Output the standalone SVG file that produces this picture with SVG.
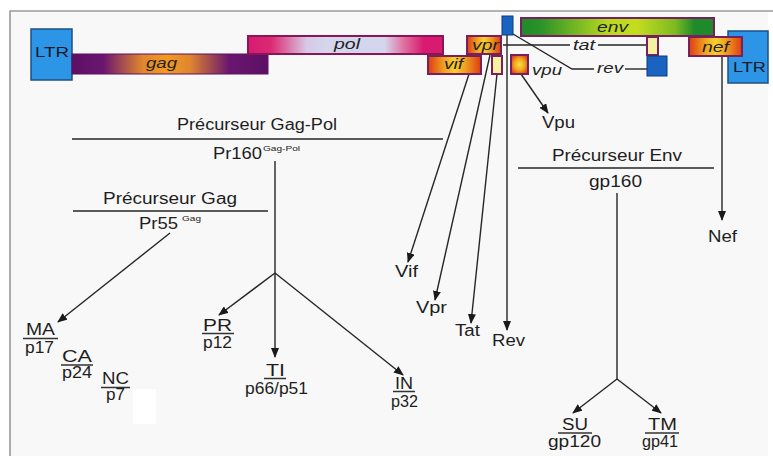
<svg xmlns="http://www.w3.org/2000/svg" width="773" height="456" viewBox="0 0 773 456">
<defs>
<style>
.t{font-family:"Liberation Sans",Arial,sans-serif;font-size:16px;fill:#1e1e1e}
.g{font-family:"Liberation Sans",Arial,sans-serif;font-size:15px;font-style:italic;fill:#222}
.sup{font-family:"Liberation Sans",Arial,sans-serif;font-size:8px;fill:#222}
.ltr{font-family:"Liberation Sans",Arial,sans-serif;font-size:15px;fill:#1a1a2a}
.ln{stroke:#262626;stroke-width:1.4;fill:none}
.ar{stroke:#262626;stroke-width:1.4;fill:none;marker-end:url(#ah)}
.ul{stroke:#333;stroke-width:1.5}
.box{stroke:#7a1f5e;stroke-width:2}
</style>
<marker id="ah" markerUnits="userSpaceOnUse" markerWidth="10" markerHeight="8" refX="9" refY="4" orient="auto">
<path d="M0,0 L10,4 L0,8 z" fill="#1a1a1a"/>
</marker>
<linearGradient id="gGag" x1="0" x2="1" y1="0" y2="0">
<stop offset="0" stop-color="#5c1064"/>
<stop offset="0.16" stop-color="#6a1670"/>
<stop offset="0.36" stop-color="#e0862e"/>
<stop offset="0.48" stop-color="#f29a22"/>
<stop offset="0.6" stop-color="#e0862e"/>
<stop offset="0.8" stop-color="#6a1670"/>
<stop offset="1" stop-color="#5c1064"/>
</linearGradient>
<linearGradient id="gPol" x1="0" x2="1" y1="0" y2="0">
<stop offset="0" stop-color="#d81b70"/>
<stop offset="0.12" stop-color="#dc2a74"/>
<stop offset="0.3" stop-color="#d8c8e4"/>
<stop offset="0.4" stop-color="#d4d6ee"/>
<stop offset="0.7" stop-color="#d4d6ee"/>
<stop offset="0.8" stop-color="#e070a0"/>
<stop offset="0.9" stop-color="#d81b70"/>
<stop offset="1" stop-color="#d81b70"/>
</linearGradient>
<linearGradient id="gEnv" x1="0" x2="1" y1="0" y2="0">
<stop offset="0" stop-color="#1e8a2a"/>
<stop offset="0.1" stop-color="#2a9228"/>
<stop offset="0.45" stop-color="#b8d820"/>
<stop offset="0.6" stop-color="#c4dc1e"/>
<stop offset="0.8" stop-color="#7cba22"/>
<stop offset="0.9" stop-color="#1e8a2a"/>
<stop offset="1" stop-color="#1e8a2a"/>
</linearGradient>
<linearGradient id="gOr" x1="0" x2="1" y1="0" y2="0">
<stop offset="0" stop-color="#dc3c14"/>
<stop offset="0.3" stop-color="#f0a020"/>
<stop offset="0.5" stop-color="#f8d030"/>
<stop offset="0.7" stop-color="#f0a020"/>
<stop offset="1" stop-color="#dc3c14"/>
</linearGradient>
<radialGradient id="gRad" cx="0.5" cy="0.5" r="0.6">
<stop offset="0" stop-color="#f8e040"/>
<stop offset="0.5" stop-color="#f2a820"/>
<stop offset="1" stop-color="#dc3c14"/>
</radialGradient>
</defs>

<rect x="0" y="0" width="773" height="456" fill="#ffffff"/>
<rect x="10" y="11" width="758" height="445" fill="#f8f8f8"/>
<path d="M10,456 V11 H773" stroke="#9a9a9a" stroke-width="1.6" fill="none"/>
<rect x="133" y="389" width="23" height="35" fill="#ffffff"/>

<g id="connectors">
<line class="ln" x1="503" y1="45" x2="570" y2="45"/>
<line class="ln" x1="598" y1="45" x2="647" y2="45"/>
<polyline class="ln" points="513,34 572,69 594,69"/>
<line class="ln" x1="625" y1="69" x2="647" y2="69"/>
<line class="ar" x1="469" y1="74" x2="408" y2="262"/>
<line class="ar" x1="490" y1="55" x2="435" y2="300"/>
<line class="ar" x1="497" y1="74" x2="471" y2="323"/>
<line class="ar" x1="507" y1="35" x2="507" y2="330"/>
<line class="ar" x1="521" y1="74" x2="548" y2="113"/>
<line class="ar" x1="722" y1="56" x2="722" y2="220"/>
<line class="ln" x1="72" y1="139" x2="443" y2="139"/>
<line class="ln" x1="73" y1="211" x2="268" y2="211"/>
<line class="ln" x1="518" y1="168" x2="714" y2="168"/>
<line class="ln" x1="275" y1="161" x2="275" y2="273"/>
<line class="ar" x1="275" y1="273" x2="219" y2="315"/>
<line class="ar" x1="275" y1="273" x2="275" y2="357"/>
<line class="ar" x1="275" y1="273" x2="403" y2="375"/>
<line class="ar" x1="170" y1="233" x2="58" y2="322"/>
<line class="ln" x1="617" y1="193" x2="617" y2="379"/>
<line class="ar" x1="617" y1="379" x2="573" y2="413"/>
<line class="ar" x1="617" y1="379" x2="661" y2="413"/>
</g>

<g id="ltr-left">
<rect x="31" y="29" width="41" height="51" fill="#2d95e6" stroke="#1d4f86" stroke-width="1.5"/>
<text class="ltr" x="35" y="57" textLength="34" lengthAdjust="spacingAndGlyphs">LTR</text>
</g>
<g id="gag">
<rect x="72" y="54" width="196" height="20" fill="url(#gGag)" stroke="#5a1060" stroke-width="1"/>
<text class="g" x="146" y="68" textLength="31" lengthAdjust="spacingAndGlyphs">gag</text>
</g>
<g id="pol">
<rect x="248" y="36" width="195" height="18" fill="url(#gPol)" stroke="#8a1656" stroke-width="2"/>
<text class="g" x="334" y="49" textLength="26" lengthAdjust="spacingAndGlyphs">pol</text>
</g>
<g id="vif">
<rect class="box" x="428" y="56" width="53" height="18" fill="url(#gOr)"/>
<text class="g" x="444" y="69" textLength="19" lengthAdjust="spacingAndGlyphs">vif</text>
</g>
<g id="vpr">
<rect class="box" x="467" y="36" width="34" height="18" fill="url(#gOr)"/>
<text class="g" x="472" y="50" textLength="27" lengthAdjust="spacingAndGlyphs">vpr</text>
</g>
<g id="tat-exon1">
<rect class="box" x="492" y="56" width="10" height="18" fill="#f6f0a0"/>
</g>
<g id="rev-exon1">
<rect x="502" y="16" width="11" height="19" fill="#1a63c0" stroke="#0c3a80" stroke-width="1"/>
</g>
<g id="vpu">
<rect class="box" x="511" y="55" width="17" height="19" fill="url(#gRad)"/>
<text class="g" x="532" y="75" textLength="30" lengthAdjust="spacingAndGlyphs">vpu</text>
</g>
<g id="env">
<rect class="box" x="521" y="18" width="193" height="18" fill="url(#gEnv)"/>
<text class="g" x="597" y="32" textLength="31" lengthAdjust="spacingAndGlyphs">env</text>
</g>
<g id="tat">
<text class="g" x="573" y="50" textLength="22" lengthAdjust="spacingAndGlyphs">tat</text>
<rect class="box" x="647" y="37" width="11" height="18" fill="#f6f0a0"/>
</g>
<g id="rev">
<text class="g" x="597" y="73" textLength="26" lengthAdjust="spacingAndGlyphs">rev</text>
<rect x="647" y="56" width="20" height="20" fill="#1a63c0" stroke="#0c3a80" stroke-width="1"/>
</g>
<g id="ltr-right">
<rect x="728" y="31" width="40" height="52" fill="#2d95e6" stroke="#1d4f86" stroke-width="1.5"/>
<text class="ltr" x="733" y="72" textLength="33" lengthAdjust="spacingAndGlyphs">LTR</text>
</g>
<g id="nef">
<rect class="box" x="689" y="37" width="53" height="19" fill="url(#gOr)"/>
<text class="g" x="702" y="52" textLength="27" lengthAdjust="spacingAndGlyphs">nef</text>
</g>

<g id="precurseur-gag-pol">
<text class="t" x="177" y="130" textLength="160" lengthAdjust="spacingAndGlyphs">Précurseur Gag-Pol</text>
<text class="t" x="213" y="159" textLength="49" lengthAdjust="spacingAndGlyphs">Pr160</text>
<text class="sup" x="263" y="151" textLength="37" lengthAdjust="spacingAndGlyphs">Gag-Pol</text>
</g>
<g id="precurseur-gag">
<text class="t" x="103" y="204" textLength="134" lengthAdjust="spacingAndGlyphs">Précurseur Gag</text>
<text class="t" x="139" y="229" textLength="39" lengthAdjust="spacingAndGlyphs">Pr55</text>
<text class="sup" x="182" y="221" textLength="19" lengthAdjust="spacingAndGlyphs">Gag</text>
</g>
<g id="precurseur-env">
<text class="t" x="552" y="161" textLength="130" lengthAdjust="spacingAndGlyphs">Précurseur Env</text>
<text class="t" x="589" y="187" textLength="53" lengthAdjust="spacingAndGlyphs">gp160</text>
</g>

<g id="Vif"><text class="t" x="395" y="277" textLength="23" lengthAdjust="spacingAndGlyphs">Vif</text></g>
<g id="Vpr"><text class="t" x="416" y="313" textLength="31" lengthAdjust="spacingAndGlyphs">Vpr</text></g>
<g id="Tat"><text class="t" x="455" y="336" textLength="25" lengthAdjust="spacingAndGlyphs">Tat</text></g>
<g id="Rev"><text class="t" x="492" y="346" textLength="33" lengthAdjust="spacingAndGlyphs">Rev</text></g>
<g id="Vpu"><text class="t" x="542" y="128" textLength="33" lengthAdjust="spacingAndGlyphs">Vpu</text></g>
<g id="Nef"><text class="t" x="708" y="242" textLength="29" lengthAdjust="spacingAndGlyphs">Nef</text></g>

<g id="MA">
<text class="t" x="26" y="335" textLength="29" lengthAdjust="spacingAndGlyphs">MA</text>
<line class="ul" x1="23" y1="338.5" x2="58" y2="338.5"/>
<text class="t" x="25" y="353" textLength="29" lengthAdjust="spacingAndGlyphs">p17</text>
</g>
<g id="CA">
<text class="t" x="62" y="362" textLength="30" lengthAdjust="spacingAndGlyphs">CA</text>
<line class="ul" x1="61" y1="365" x2="93" y2="365"/>
<text class="t" x="62" y="378" textLength="30" lengthAdjust="spacingAndGlyphs">p24</text>
</g>
<g id="NC">
<text class="t" x="102" y="384" textLength="27" lengthAdjust="spacingAndGlyphs">NC</text>
<line class="ul" x1="101" y1="387.5" x2="130" y2="387.5"/>
<text class="t" x="106" y="400" textLength="19" lengthAdjust="spacingAndGlyphs">p7</text>
</g>
<g id="PR">
<text class="t" x="203" y="331" textLength="29" lengthAdjust="spacingAndGlyphs">PR</text>
<line class="ul" x1="202" y1="333.5" x2="234" y2="333.5"/>
<text class="t" x="203" y="348" textLength="29" lengthAdjust="spacingAndGlyphs">p12</text>
</g>
<g id="TI">
<text class="t" x="266" y="376" textLength="19" lengthAdjust="spacingAndGlyphs">TI</text>
<line class="ul" x1="264" y1="378.5" x2="286" y2="378.5"/>
<text class="t" x="245" y="394" textLength="63" lengthAdjust="spacingAndGlyphs">p66/p51</text>
</g>
<g id="IN">
<text class="t" x="395" y="389" textLength="18" lengthAdjust="spacingAndGlyphs">IN</text>
<line class="ul" x1="393" y1="391.5" x2="415" y2="391.5"/>
<text class="t" x="391" y="407" textLength="27" lengthAdjust="spacingAndGlyphs">p32</text>
</g>
<g id="SU">
<text class="t" x="562" y="430" textLength="26" lengthAdjust="spacingAndGlyphs">SU</text>
<line class="ul" x1="558" y1="433" x2="592" y2="433"/>
<text class="t" x="548" y="447" textLength="53" lengthAdjust="spacingAndGlyphs">gp120</text>
</g>
<g id="TM">
<text class="t" x="648" y="430" textLength="29" lengthAdjust="spacingAndGlyphs">TM</text>
<line class="ul" x1="645" y1="433" x2="679" y2="433"/>
<text class="t" x="642" y="447" textLength="36" lengthAdjust="spacingAndGlyphs">gp41</text>
</g>
</svg>
